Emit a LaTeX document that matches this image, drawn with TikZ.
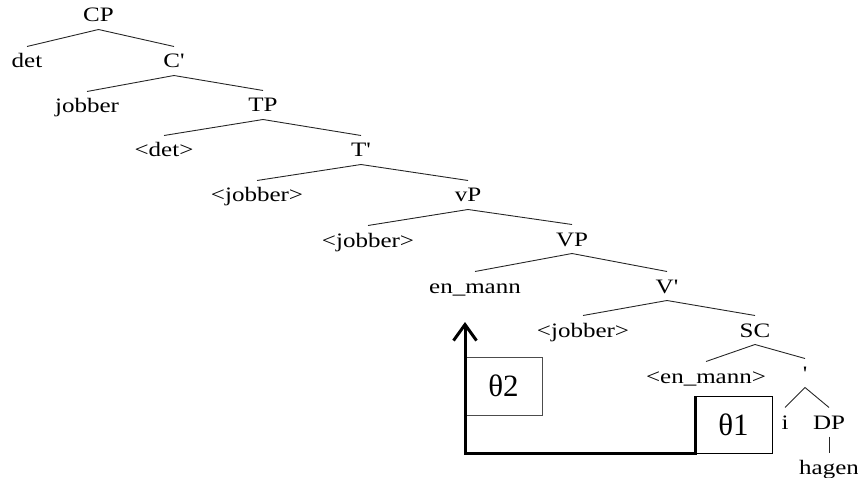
\documentclass[tikz,border=0pt]{standalone}
\usepackage{fontspec}
\newfontfamily\treefont[FakeStretch=1.22,Ligatures=TeXOff]{Liberation Serif}
\newfontfamily\thetafont{Liberation Serif}
\usetikzlibrary{arrows.meta}
\begin{document}
\begin{tikzpicture}[x=1pt,y=-1pt,
  lbl/.style={font=\treefont\fontsize{20.5}{20.5}\selectfont, inner sep=0pt, outer sep=0pt,
    text height=14pt, text depth=0pt, minimum height=29pt},
  br/.style={line width=0.9pt, black!85},
  tbox/.style={draw, line width=1pt, minimum width=77pt, minimum height=58pt, inner sep=0pt,
    outer sep=0pt, font=\thetafont\fontsize{31}{31}\selectfont},
  bigarrow/.style={line width=3pt, line join=miter, -{Straight Barb[length=16pt,width=23pt]}}
]
\useasboundingbox (0,0) rectangle (858,478);
% labels
\node[lbl] (CP)  at (98.5,15) {CP};
\node[lbl] (det) at (27,61) {det};
\node[lbl] (C1)  at (174,61) {C'};
\node[lbl] (job0) at (87,106) {jobber};
\node[lbl] (TP)  at (263,105) {TP};
\node[lbl] (tdet) at (164,150) {<det>};
\node[lbl] (T1)  at (361,150) {T'};
\node[lbl] (job1) at (257,195) {<jobber>};
\node[lbl] (vP)  at (468,195) {vP};
\node[lbl] (job2) at (368,240) {<jobber>};
\node[lbl] (VP)  at (572,239) {VP};
\node[lbl] (em)  at (475,286) {en\_mann};
\node[lbl] (V1)  at (667,286) {V'};
\node[lbl] (job3) at (583,330) {<jobber>};
\node[lbl] (SC)  at (755,330) {SC};
\node[lbl] (tem) at (706,376) {<en\_mann>};
\node[lbl] (tick) at (805,373) {'};
\node[lbl] (i)   at (785,422) {i};
\node[lbl] (DP)  at (829,422) {DP};
\node[lbl] (hag) at (829,467) {hagen};
% branches
\draw[br] (det.north) -- (CP.south) -- (C1.north);
\draw[br] (job0.north) -- (C1.south) -- (TP.north);
\draw[br] (tdet.north) -- (TP.south) -- (T1.north);
\draw[br] (job1.north) -- (T1.south) -- (vP.north);
\draw[br] (job2.north) -- (vP.south) -- (VP.north);
\draw[br] (em.north) -- (VP.south) -- (V1.north);
\draw[br] (job3.north) -- (V1.south) -- (SC.north);
\draw[br] (tem.north) -- (SC.south) -- (tick.north);
\draw[br] (i.north) -- (tick.south) -- (DP.north);
\draw[br] (DP.south) -- (hag.north);
% theta boxes
\node[tbox, draw=black!70] (t2) at (503.5,386) {θ2};
\node[tbox, draw=black, minimum height=57pt] (t1) at (733.5,424.5) {θ1};
\coordinate (tip) at (465,322);
\draw[bigarrow] (t1.north west) -- (t1.south west) -| (tip);
\end{tikzpicture}
\end{document}
